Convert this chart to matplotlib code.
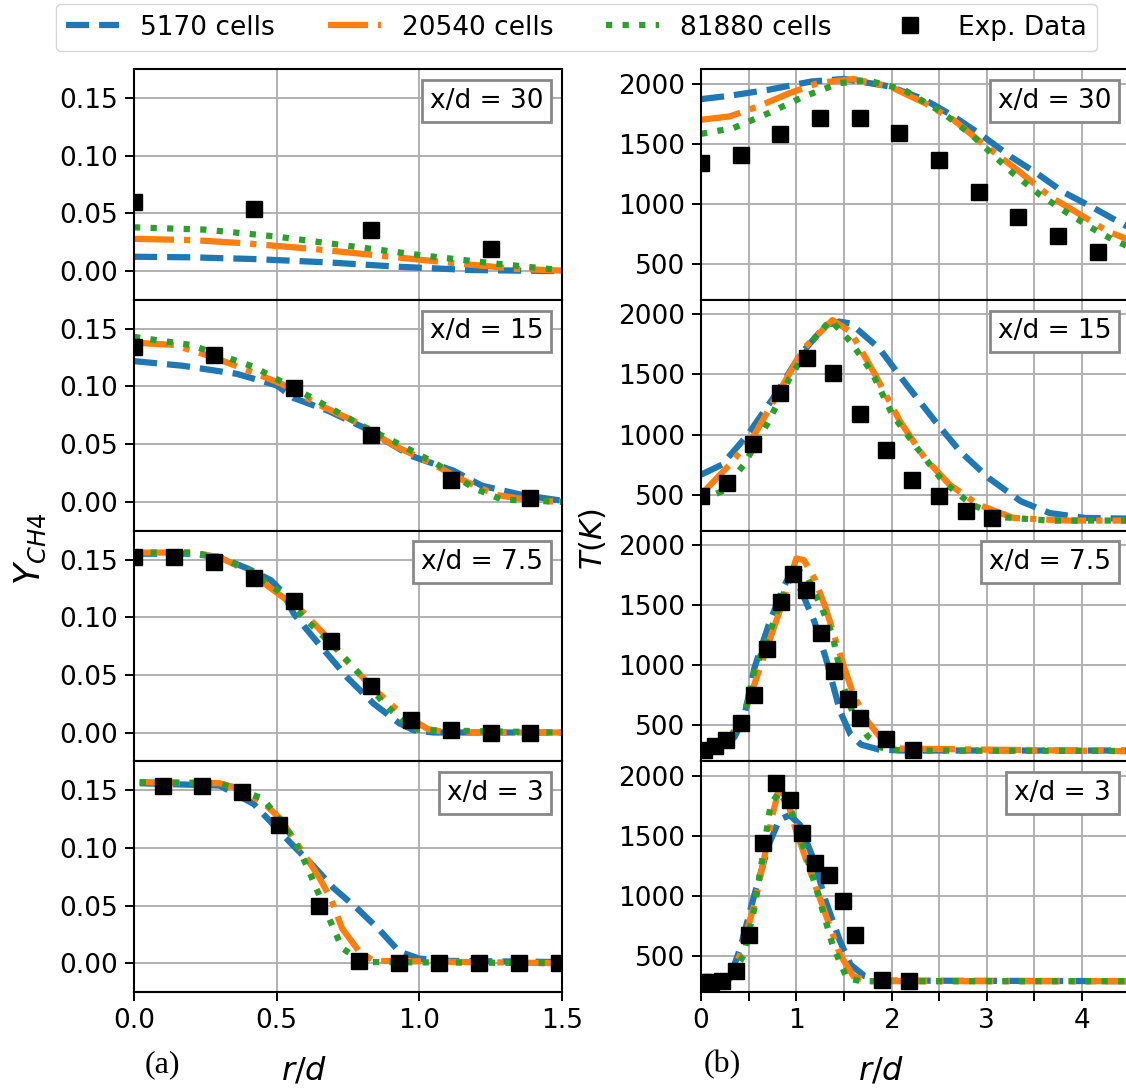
import matplotlib
matplotlib.use("Agg")
import matplotlib.pyplot as plt
from matplotlib.offsetbox import AnchoredText

# ---------------- data ----------------
# left column: Y_CH4 vs r/d
ych4_30_exp_r = [0, 0.42, 0.83, 1.25]
ych4_30_exp_v = [0.060, 0.054, 0.036, 0.019]
ych4_30_c1_r = [0, 0.2, 0.42, 0.68, 0.93, 1.18, 1.5]
ych4_30_c1_v = [0.0125, 0.012, 0.0105, 0.0076, 0.0038, 0.001, 0.0]
ych4_30_c2_r = [0, 0.2, 0.4, 0.64, 0.88, 1.12, 1.34, 1.5]
ych4_30_c2_v = [0.028, 0.027, 0.024, 0.019, 0.013, 0.007, 0.002, 0.0005]
ych4_30_c3_r = [0, 0.25, 0.5, 0.75, 1.0, 1.25, 1.45, 1.5]
ych4_30_c3_v = [0.038, 0.036, 0.030, 0.022, 0.014, 0.007, 0.002, 0.001]

ych4_15_exp_r = [0, 0.28, 0.56, 0.83, 1.11, 1.39]
ych4_15_exp_v = [0.134, 0.127, 0.099, 0.058, 0.019, 0.003]
ych4_15_c1_r = [0, 0.17, 0.36, 0.5, 0.56, 0.68, 0.8, 0.97, 1.12, 1.22, 1.36, 1.5]
ych4_15_c1_v = [0.122, 0.118, 0.111, 0.101, 0.090, 0.079, 0.065, 0.040, 0.027, 0.014, 0.006, 0.001]
ych4_15_c2_r = [0, 0.14, 0.27, 0.4, 0.52, 0.65, 0.78, 0.91, 1.03, 1.16, 1.27, 1.4, 1.5]
ych4_15_c2_v = [0.138, 0.136, 0.126, 0.114, 0.102, 0.084, 0.069, 0.049, 0.035, 0.018, 0.006, 0.001, 0.0]
ych4_15_c3_r = [0, 0.2, 0.42, 0.61, 0.8, 0.93, 1.06, 1.19, 1.29, 1.5]
ych4_15_c3_v = [0.143, 0.136, 0.117, 0.092, 0.066, 0.050, 0.033, 0.012, 0.002, 0.0]

ych4_75_exp_r = [0, 0.14, 0.28, 0.42, 0.56, 0.69, 0.83, 0.97, 1.11, 1.25, 1.39]
ych4_75_exp_v = [0.152, 0.152, 0.148, 0.134, 0.114, 0.079, 0.040, 0.011, 0.002, 0.0, 0.0]
ych4_75_c1_r = [0, 0.2, 0.3, 0.4, 0.48, 0.52, 0.56, 0.63, 0.75, 0.84, 0.93, 0.98, 1.05, 1.5]
ych4_75_c1_v = [0.155, 0.155, 0.152, 0.142, 0.132, 0.122, 0.103, 0.082, 0.047, 0.025, 0.008, 0.002, 0.0, 0.0]
ych4_75_c2_r = [0, 0.2, 0.3, 0.4, 0.48, 0.59, 0.68, 0.75, 0.84, 0.93, 1.03, 1.1, 1.5]
ych4_75_c2_v = [0.156, 0.156, 0.152, 0.140, 0.125, 0.105, 0.082, 0.061, 0.038, 0.018, 0.003, 0.0, 0.0]
ych4_75_c3_r = [0, 0.2, 0.3, 0.4, 0.5, 0.61, 0.7, 0.79, 0.87, 0.95, 1.0, 1.5]
ych4_75_c3_v = [0.156, 0.156, 0.152, 0.141, 0.124, 0.096, 0.075, 0.051, 0.027, 0.008, 0.002, 0.0]

ych4_3_exp_r = [0.10, 0.24, 0.38, 0.51, 0.65, 0.79, 0.93, 1.07, 1.21, 1.35, 1.49]
ych4_3_exp_v = [0.154, 0.154, 0.148, 0.120, 0.050, 0.002, 0.0, 0.0, 0.0, 0.0, 0.0]
ych4_3_c1_r = [0.02, 0.3, 0.42, 0.55, 0.63, 0.70, 0.78, 0.86, 0.93, 1.0, 1.1, 1.5]
ych4_3_c1_v = [0.156, 0.154, 0.138, 0.104, 0.084, 0.065, 0.048, 0.029, 0.010, 0.004, 0.002, 0.001]
ych4_3_c2_r = [0.02, 0.3, 0.345, 0.45, 0.51, 0.59, 0.65, 0.69, 0.73, 0.79, 0.84, 1.5]
ych4_3_c2_v = [0.157, 0.156, 0.153, 0.140, 0.126, 0.097, 0.074, 0.056, 0.030, 0.010, 0.002, 0.0]
ych4_3_c3_r = [0.02, 0.3, 0.45, 0.48, 0.56, 0.61, 0.68, 0.73, 0.80, 1.5]
ych4_3_c3_v = [0.157, 0.156, 0.143, 0.134, 0.108, 0.082, 0.041, 0.013, 0.001, 0.0]

# right column: T (K) vs r/d
t_30_exp_r = [0, 0.42, 0.83, 1.25, 1.67, 2.08, 2.5, 2.92, 3.33, 3.75, 4.17]
t_30_exp_v = [1340, 1408, 1583, 1714, 1714, 1589, 1367, 1103, 894, 733, 603]
t_30_c1_r = [0, 0.3, 0.71, 1.16, 1.5, 1.98, 2.35, 2.65, 2.95, 3.25, 3.52, 3.8, 4.12, 4.5]
t_30_c1_v = [1872, 1900, 1950, 2019, 2040, 1978, 1867, 1730, 1570, 1394, 1258, 1100, 967, 800]
t_30_c2_r = [0, 0.3, 0.6, 0.93, 1.23, 1.6, 1.98, 2.35, 2.65, 2.95, 3.32, 3.67, 3.9, 4.28, 4.5]
t_30_c2_v = [1700, 1728, 1811, 1922, 2006, 2039, 1978, 1839, 1700, 1506, 1283, 1058, 950, 767, 700]
t_30_c3_r = [0, 0.34, 0.71, 1.08, 1.46, 1.75, 2.13, 2.54, 2.84, 3.27, 3.56, 3.86, 4.17, 4.33, 4.5]
t_30_c3_v = [1583, 1631, 1756, 1894, 2006, 2028, 1950, 1756, 1575, 1258, 1075, 917, 767, 700, 640]

t_15_exp_r = [0, 0.27, 0.55, 0.83, 1.11, 1.39, 1.67, 1.94, 2.22, 2.5, 2.78, 3.06]
t_15_exp_v = [486, 597, 923, 1350, 1635, 1510, 1172, 868, 624, 486, 361, 306]
t_15_c1_r = [0, 0.22, 0.49, 0.78, 1.04, 1.31, 1.45, 1.57, 1.87, 2.16, 2.46, 2.72, 3.02, 3.36, 3.66, 4.03, 4.5]
t_15_c1_v = [666, 749, 998, 1330, 1662, 1911, 1940, 1925, 1718, 1413, 1109, 860, 638, 444, 347, 306, 300]
t_15_c2_r = [0, 0.3, 0.56, 0.82, 1.08, 1.38, 1.57, 1.83, 2.09, 2.35, 2.61, 2.91, 3.28, 3.84, 4.5]
t_15_c2_v = [500, 749, 998, 1358, 1718, 1953, 1856, 1496, 1109, 804, 583, 417, 306, 284, 284]
t_15_c3_r = [0, 0.22, 0.45, 0.71, 0.93, 1.19, 1.36, 1.57, 1.79, 2.01, 2.27, 2.54, 2.84, 3.17, 3.66, 4.5]
t_15_c3_v = [458, 527, 749, 1109, 1469, 1801, 1953, 1773, 1524, 1164, 887, 610, 417, 312, 284, 284]

t_75_exp_r = [0.03, 0.15, 0.26, 0.42, 0.56, 0.69, 0.84, 0.97, 1.1, 1.26, 1.4, 1.54, 1.67, 1.94, 2.23]
t_75_exp_v = [298, 325, 381, 519, 749, 1136, 1524, 1756, 1626, 1266, 956, 721, 561, 389, 298]
t_75_c1_r = [0, 0.2, 0.35, 0.45, 0.56, 0.71, 0.86, 0.95, 1.04, 1.19, 1.31, 1.46, 1.57, 1.68, 1.87, 2.1, 4.5]
t_75_c1_v = [290, 310, 400, 560, 976, 1336, 1640, 1780, 1640, 1363, 1059, 616, 422, 339, 298, 290, 290]
t_75_c2_r = [0, 0.3, 0.45, 0.63, 0.86, 1.0, 1.08, 1.19, 1.31, 1.46, 1.6, 1.75, 1.9, 2.09, 4.5]
t_75_c2_v = [284, 395, 589, 1004, 1529, 1889, 1875, 1723, 1474, 1087, 754, 533, 381, 306, 284]
t_75_c3_r = [0, 0.3, 0.45, 0.56, 0.75, 0.9, 1.0, 1.12, 1.27, 1.38, 1.49, 1.6, 1.75, 1.9, 2.1, 4.5]
t_75_c3_v = [286, 390, 570, 948, 1336, 1668, 1806, 1723, 1474, 1253, 837, 588, 408, 312, 290, 286]

t_3_exp_r = [0.02, 0.1, 0.22, 0.37, 0.5, 0.65, 0.79, 0.93, 1.06, 1.2, 1.34, 1.49, 1.62, 1.9, 2.18]
t_3_exp_v = [280, 285, 289, 372, 677, 1438, 1936, 1798, 1521, 1272, 1170, 954, 677, 303, 289]
t_3_c1_r = [0, 0.3, 0.41, 0.56, 0.71, 0.82, 0.93, 1.04, 1.19, 1.31, 1.46, 1.57, 1.72, 1.9, 4.5]
t_3_c1_v = [290, 320, 560, 1009, 1424, 1632, 1673, 1590, 1286, 954, 622, 428, 331, 295, 290]
t_3_c2_r = [0, 0.3, 0.41, 0.56, 0.67, 0.75, 0.82, 0.9, 1.0, 1.16, 1.31, 1.46, 1.6, 1.75, 4.5]
t_3_c2_v = [290, 310, 511, 926, 1341, 1673, 1895, 1812, 1535, 1175, 843, 511, 331, 290, 290]
t_3_c3_r = [0, 0.3, 0.45, 0.56, 0.65, 0.73, 0.82, 0.95, 1.08, 1.23, 1.38, 1.53, 1.68, 4.5]
t_3_c3_v = [290, 305, 511, 898, 1341, 1756, 1867, 1701, 1397, 1009, 594, 317, 290, 290]

stations = ["x/d = 30", "x/d = 15", "x/d = 7.5", "x/d = 3"]
labels = ["5170 cells", "20540 cells", "81880 cells", "Exp. Data"]

left_panels = [
    (ych4_30_c1_r, ych4_30_c1_v, ych4_30_c2_r, ych4_30_c2_v, ych4_30_c3_r, ych4_30_c3_v, ych4_30_exp_r, ych4_30_exp_v),
    (ych4_15_c1_r, ych4_15_c1_v, ych4_15_c2_r, ych4_15_c2_v, ych4_15_c3_r, ych4_15_c3_v, ych4_15_exp_r, ych4_15_exp_v),
    (ych4_75_c1_r, ych4_75_c1_v, ych4_75_c2_r, ych4_75_c2_v, ych4_75_c3_r, ych4_75_c3_v, ych4_75_exp_r, ych4_75_exp_v),
    (ych4_3_c1_r, ych4_3_c1_v, ych4_3_c2_r, ych4_3_c2_v, ych4_3_c3_r, ych4_3_c3_v, ych4_3_exp_r, ych4_3_exp_v),
]
right_panels = [
    (t_30_c1_r, t_30_c1_v, t_30_c2_r, t_30_c2_v, t_30_c3_r, t_30_c3_v, t_30_exp_r, t_30_exp_v),
    (t_15_c1_r, t_15_c1_v, t_15_c2_r, t_15_c2_v, t_15_c3_r, t_15_c3_v, t_15_exp_r, t_15_exp_v),
    (t_75_c1_r, t_75_c1_v, t_75_c2_r, t_75_c2_v, t_75_c3_r, t_75_c3_v, t_75_exp_r, t_75_exp_v),
    (t_3_c1_r, t_3_c1_v, t_3_c2_r, t_3_c2_v, t_3_c3_r, t_3_c3_v, t_3_exp_r, t_3_exp_v),
]

# ---------------- style ----------------
plt.rcParams.update({
    "font.size": 19,
    "axes.linewidth": 1.5,
    "xtick.major.size": 6.3,
    "ytick.major.size": 6.3,
    "xtick.major.width": 1.4,
    "ytick.major.width": 1.4,
    "xtick.major.pad": 5,
    "ytick.major.pad": 5,
    "grid.color": "#b0b0b0",
    "grid.linewidth": 1.4,
})

C1, C2, C3 = "#1f77b4", "#ff7f0e", "#2ca02c"
LW = 4.5
MS = 12


def draw(ax, p):
    ax.plot(p[0], p[1], color=C1, ls="--", lw=LW)
    ax.plot(p[2], p[3], color=C2, ls="-.", lw=LW)
    ax.plot(p[4], p[5], color=C3, ls=":", lw=LW)
    ax.plot(p[6], p[7], "ks", ms=MS, ls="none", zorder=5)
    ax.grid(True)
    ax.set_axisbelow(True)


def station_box(ax, txt):
    at = AnchoredText(txt, loc="upper right", prop=dict(size=19), frameon=True,
                      borderpad=0.4, pad=0.3)
    at.patch.set_edgecolor("#888888")
    at.patch.set_linewidth(2)
    ax.add_artist(at)


fig = plt.figure(figsize=(11.26, 10.90), dpi=100)
gl = fig.add_gridspec(4, 1, left=0.119, right=0.499, top=0.9364, bottom=0.0899, hspace=0)
gr = fig.add_gridspec(4, 1, left=0.6226, right=1.0032, top=0.9364, bottom=0.0899, hspace=0)

for i in range(4):
    ax = fig.add_subplot(gl[i, 0])
    draw(ax, left_panels[i])
    ax.set_xlim(0, 1.5)
    ax.set_ylim(-0.025, 0.175)
    ax.set_yticks([0.0, 0.05, 0.10, 0.15])
    ax.set_yticklabels(["0.00", "0.05", "0.10", "0.15"])
    ax.set_xticks([0.0, 0.5, 1.0, 1.5])
    if i < 3:
        ax.tick_params(axis="x", labelbottom=False, length=0)
    else:
        ax.set_xticklabels(["0.0", "0.5", "1.0", "1.5"])
    station_box(ax, stations[i])

    ax = fig.add_subplot(gr[i, 0])
    draw(ax, right_panels[i])
    ax.set_xlim(0, 4.5)
    ax.set_ylim(200, 2120)
    ax.set_yticks([500, 1000, 1500, 2000])
    ax.set_xticks([0, 0.5, 1, 1.5, 2, 2.5, 3, 3.5, 4, 4.5])
    if i < 3:
        ax.tick_params(axis="x", labelbottom=False, length=0)
    else:
        ax.set_xticklabels(["0", "", "1", "", "2", "", "3", "", "4", ""])
    station_box(ax, stations[i])

fig.text(0.027, 0.497, r"$Y_{CH4}$", rotation=90, ha="center", va="center", fontsize=25)
fig.text(0.526, 0.505, r"$T(K)$", rotation=90, ha="center", va="center", fontsize=22)
fig.text(0.27, 0.017, r"$r/d$", ha="center", va="center", fontsize=23)
fig.text(0.783, 0.017, r"$r/d$", ha="center", va="center", fontsize=23)
fig.text(0.144, 0.023, "(a)", ha="center", va="center", fontsize=23, family="Liberation Serif")
fig.text(0.641, 0.023, "(b)", ha="center", va="center", fontsize=23, family="Liberation Serif")

handles = [
    plt.Line2D([], [], color=C1, ls="--", lw=LW),
    plt.Line2D([], [], color=C2, ls="-.", lw=LW),
    plt.Line2D([], [], color=C3, ls=":", lw=LW),
    plt.Line2D([], [], color="k", marker="s", ms=MS, ls="none"),
]
fig.legend(handles, labels, loc="upper center", bbox_to_anchor=(0.512, 1.0), ncol=4,
           fontsize=19, handlelength=2.0, columnspacing=2.0, borderaxespad=0.15)

fig.savefig("out.png", dpi=100)
